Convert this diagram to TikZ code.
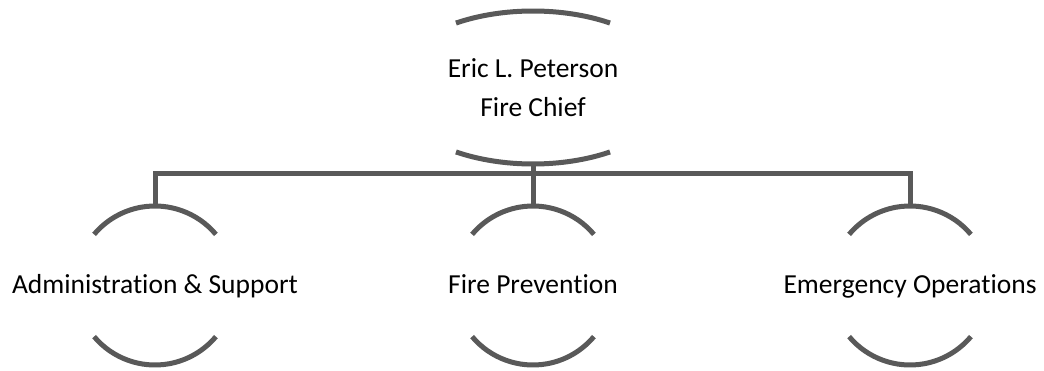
\documentclass[tikz,border=0pt]{standalone}
\usepackage{fontspec}
\setmainfont{Carlito}[Ligatures={NoCommon,NoRare,NoContextual}]
\definecolor{linegray}{RGB}{89,89,89}
\begin{document}
\begin{tikzpicture}[x=1pt,y=1pt,
  conn/.style={draw=linegray,line width=5pt,line join=miter},
  arcline/.style={draw=linegray,line width=5pt},
  lbl/.style={font=\fontsize{27.5}{39}\selectfont,text=black,inner sep=0pt,align=center}]
\useasboundingbox (0,0) rectangle (1044,370);
% chief
\node[lbl] (chief) at (533,282.5) {Eric L. Peterson\\Fire Chief};
\draw[arcline] (chief.center) ++(57.4:143pt and 76.5pt) arc[start angle=57.4,end angle=122.6,x radius=143,y radius=76.5];
\draw[arcline] (chief.center) ++(237.4:143pt and 76.5pt) arc[start angle=237.4,end angle=302.6,x radius=143,y radius=76.5];
\coordinate (chiefb) at (533,206);
\coordinate (bus) at (533,196);
% children
\node[lbl,anchor=base] (admin) at (155,77) {Administration \& Support};
\node[lbl,anchor=base] (prev) at (533,77) {Fire Prevention};
\node[lbl,anchor=base] (ops) at (910,77) {Emergency Operations};
\coordinate (adminc) at (155,84.5);
\coordinate (prevc) at (533,84.5);
\coordinate (opsc) at (910,84.5);
\foreach \c in {adminc,prevc,opsc}{
  \draw[arcline] (\c) ++(40:79.5) arc[start angle=40,end angle=140,radius=79.5];
  \draw[arcline] (\c) ++(220:79.5) arc[start angle=220,end angle=320,radius=79.5];
}
\coordinate (admint) at (155,164);
\coordinate (prevt) at (533,164);
\coordinate (opst) at (910,164);
% connectors
\draw[conn] (chiefb) -- (bus);
\draw[conn] (bus) -| (admint);
\draw[conn] (bus) -| (opst);
\draw[conn] (bus) -- (prevt);
\end{tikzpicture}
\end{document}
